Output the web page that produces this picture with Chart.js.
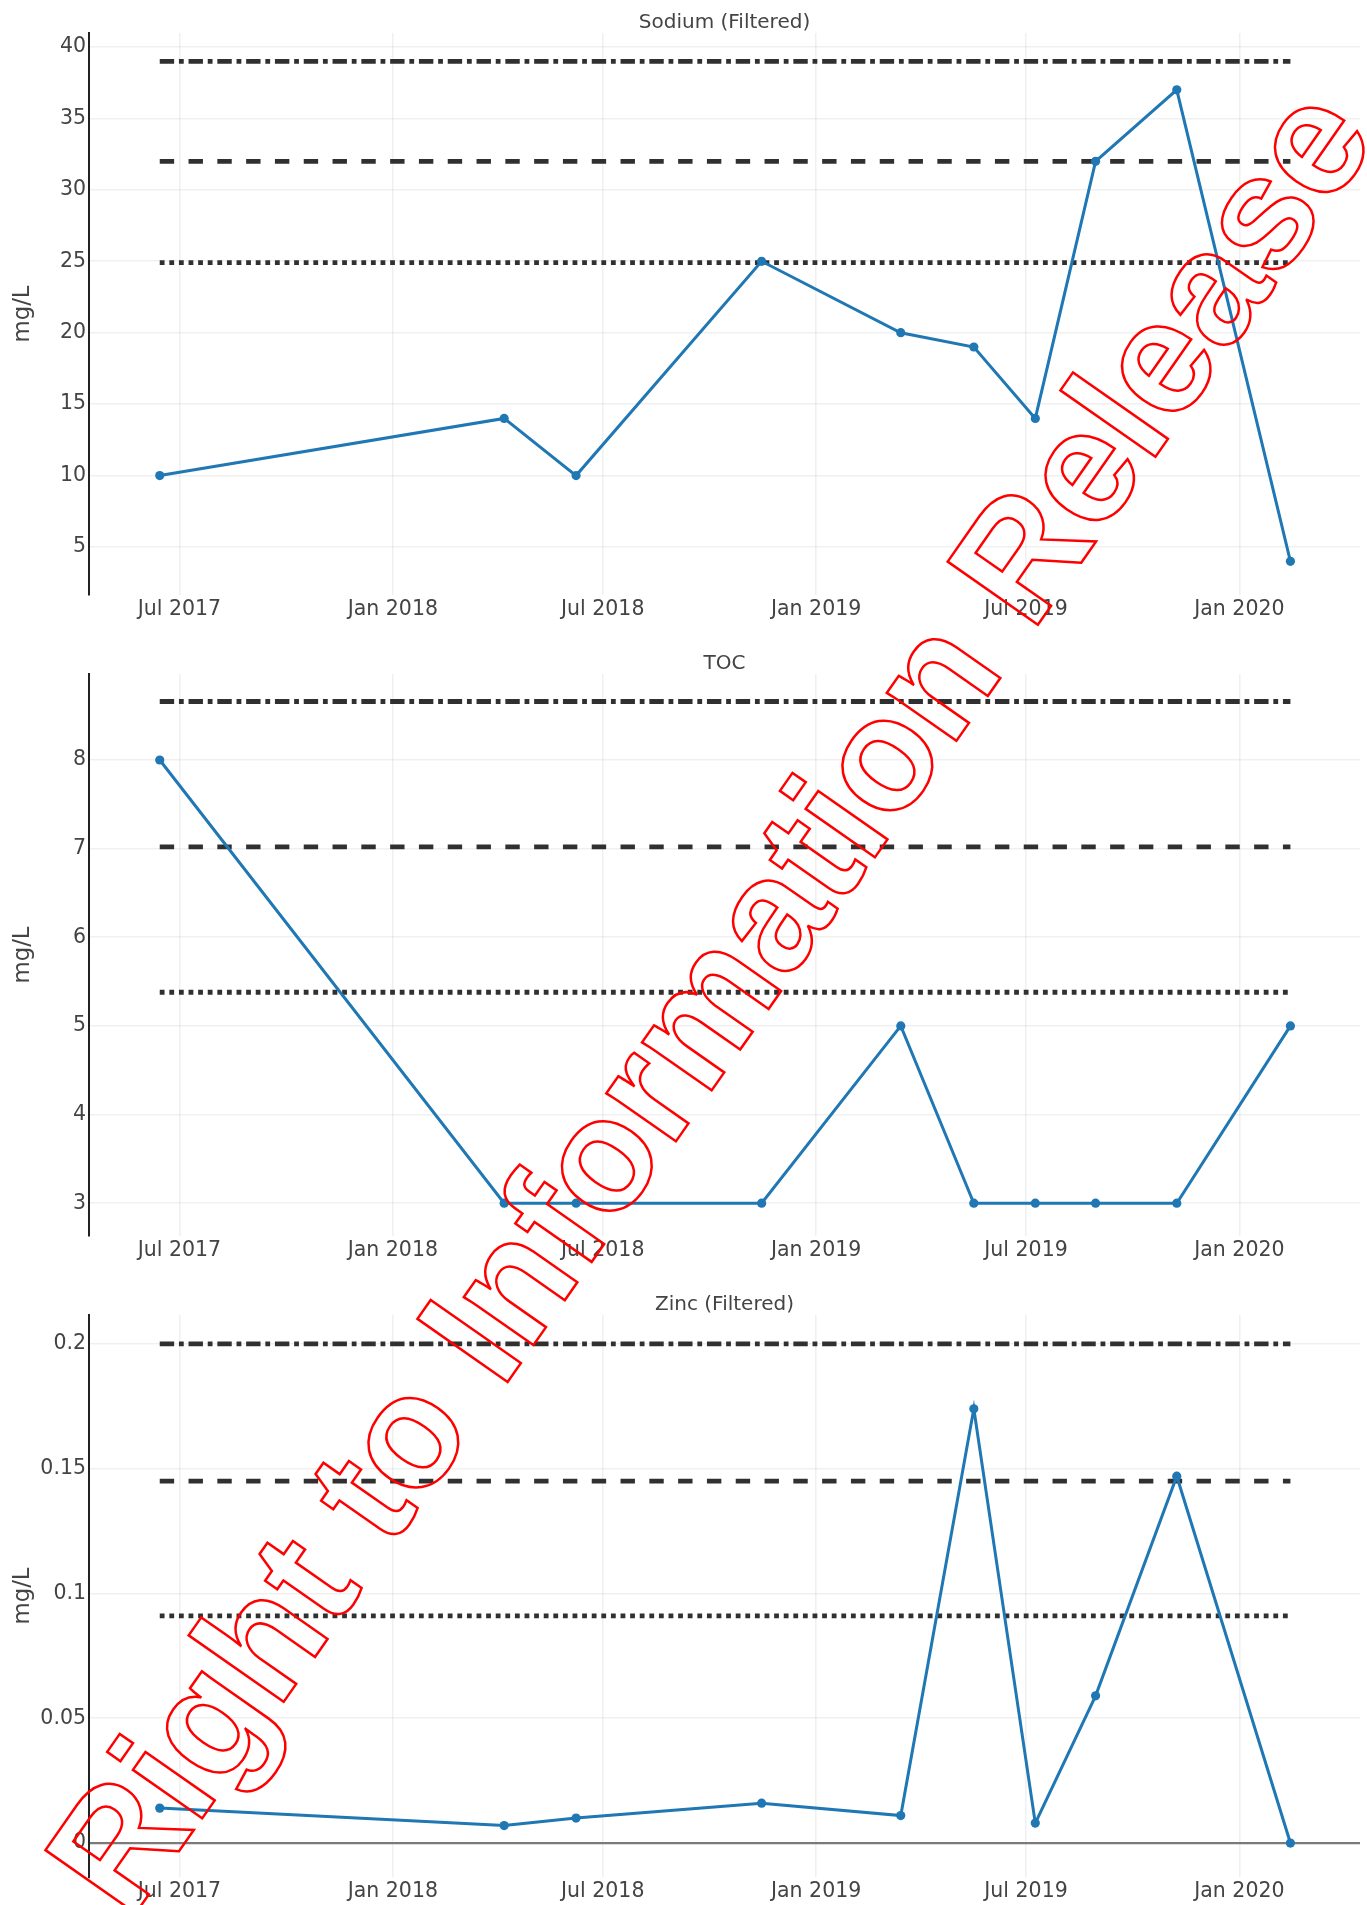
<!DOCTYPE html>
<html>
<head>
<meta charset="utf-8">
<title>Sodium, TOC and Zinc</title>
<script src="https://cdn.jsdelivr.net/npm/chart.js@4.4.1/dist/chart.umd.min.js"></script>
<style>
  html, body { margin: 0; padding: 0; background: #fff; overflow: hidden; }
  .panel { position: absolute; left: 0; width: 1367px; height: 641px; }
  #watermark { position: absolute; left: 0; top: 0; pointer-events: none; }
</style>
</head>
<body>
<div class="panel" style="top:0"><canvas id="sodium" width="1367" height="641"></canvas></div>
<div class="panel" style="top:641px"><canvas id="toc" width="1367" height="641"></canvas></div>
<div class="panel" style="top:1282px"><canvas id="zinc" width="1367" height="641"></canvas></div>
<canvas id="watermark" width="1367" height="1905"></canvas>
<script>
// sample dates shared by all three parameters
const sampleDates = [
  '2017-06-14', '2018-04-07', '2018-06-08', '2018-11-15', '2019-03-15',
  '2019-05-17', '2019-07-09', '2019-08-30', '2019-11-08', '2020-02-14',
]
const sodiumValues = [10, 14, 10, 25, 20, 19, 14, 32, 37, 4]
const tocValues = [8, 3, 3, 3, 5, 3, 3, 3, 3, 5]
const zincValues = [0.014, 0.007, 0.01, 0.016, 0.011, 0.174, 0.008, 0.059, 0.147, 0]

// trigger levels: dotted, dashed, dash-dot
const sodiumLimits = [24.9, 32, 39]
const tocLimits = [5.38, 7.02, 8.66]
const zincLimits = [0.091, 0.145, 0.2]

const xTickDates = ['2017-07-01', '2018-01-01', '2018-07-01', '2019-01-01', '2019-07-01', '2020-01-01']
const xTickLabels = ['Jul 2017', 'Jan 2018', 'Jul 2018', 'Jan 2019', 'Jul 2019', 'Jan 2020']
const sodiumTicks = [5, 10, 15, 20, 25, 30, 35, 40]
const tocTicks = [3, 4, 5, 6, 7, 8]
const zincTicks = [0, 0.05, 0.1, 0.15, 0.2]

const FONT = "'DejaVu Sans', Verdana, sans-serif"
const TEXT = '#444'
const BLUE = '#1f77b4'
const LIMIT = '#303030'
const LW = 4.8
const dashes = [[LW, LW], [3 * LW, 3 * LW], [3 * LW, LW, LW, LW]]

Chart.defaults.font.family = FONT
Chart.defaults.color = TEXT

function day(s) {
  let [y, m, d] = s.split('-').map(Number)
  return Date.UTC(y, m - 1, d) / 86400000
}

let xDays = sampleDates.map(day)
let xTicks = xTickDates.map(day)

const panelTitle = {
  id: 'panelTitle',
  afterDraw(chart, args, opts) {
    let { ctx, chartArea } = chart
    ctx.save()
    ctx.font = '20px ' + FONT
    ctx.fillStyle = TEXT
    ctx.textAlign = 'center'
    ctx.textBaseline = 'middle'
    ctx.fillText(opts.text, (chartArea.left + chartArea.right) / 2, opts.y)
    ctx.restore()
  },
}

function drawPanel(id, title, values, limits, ticks, yMin, yMax) {
  let first = xDays[0],
    last = xDays[xDays.length - 1]
  let datasets = [
    {
      data: values.map((v, i) => ({ x: xDays[i], y: v })),
      borderColor: BLUE,
      backgroundColor: BLUE,
      borderWidth: 3,
      pointRadius: 4.6,
      pointBorderWidth: 0,
      pointBackgroundColor: BLUE,
    },
  ]
  limits.forEach((v, i) => {
    datasets.push({
      data: [{ x: first, y: v }, { x: last, y: v }],
      borderColor: LIMIT,
      borderWidth: LW,
      borderDash: dashes[i],
      pointRadius: 0,
    })
  })

  let gridColor = 'rgba(0,0,0,0.06)'
  new Chart(document.getElementById(id), {
    type: 'line',
    data: { datasets: datasets },
    plugins: [panelTitle],
    options: {
      responsive: false,
      animation: false,
      layout: { padding: { top: 33, right: 7, bottom: 0, left: 0 } },
      plugins: {
        legend: { display: false },
        tooltip: { enabled: false },
        panelTitle: { text: title, y: 22.5 },
      },
      scales: {
        x: {
          type: 'linear',
          min: day('2017-04-14'),
          max: day('2020-04-14'),
          afterBuildTicks(scale) {
            scale.ticks = xTicks.map(v => ({ value: v }))
          },
          afterFit(scale) {
            scale.height = 46
          },
          ticks: {
            autoSkip: false,
            maxRotation: 0,
            padding: 2.5,
            font: { size: 20.5 },
            color: TEXT,
            callback: (v, i) => xTickLabels[i],
          },
          grid: { color: gridColor, lineWidth: 1.6, drawTicks: false },
          border: { display: false },
        },
        y: {
          type: 'linear',
          min: yMin,
          max: yMax,
          afterBuildTicks(scale) {
            scale.ticks = ticks.map(v => ({ value: v }))
          },
          afterFit(scale) {
            scale.width = 89
          },
          ticks: {
            padding: 3,
            font: { size: 20.5 },
            color: TEXT,
            callback: v => String(v),
          },
          grid: {
            drawTicks: false,
            color: c => (c.tick && c.tick.value === 0 ? '#7a7a7a' : gridColor),
            lineWidth: c => (c.tick && c.tick.value === 0 ? 2.2 : 1.6),
          },
          border: { display: true, color: '#222', width: 2 },
          title: {
            display: true,
            text: 'mg/L',
            color: TEXT,
            font: { size: 22.8 },
            padding: { top: 9, bottom: 0 },
          },
        },
      },
    },
  })
}

drawPanel('sodium', 'Sodium (Filtered)', sodiumValues, sodiumLimits, sodiumTicks, 1.64, 40.98)
drawPanel('toc', 'TOC', tocValues, tocLimits, tocTicks, 2.63, 8.97)
drawPanel('zinc', 'Zinc (Filtered)', zincValues, zincLimits, zincTicks, -0.0136, 0.2116)

// red outlined release stamp across the page
function drawWatermark() {
  let ctx = document.getElementById('watermark').getContext('2d')
  ctx.save()
  ctx.translate(754, 1030)
  ctx.rotate((-55 * Math.PI) / 180)
  ctx.font = "bold 160px 'Liberation Sans', Arial, sans-serif"
  ctx.textAlign = 'center'
  ctx.textBaseline = 'alphabetic'
  ctx.strokeStyle = '#ff0000'
  ctx.lineWidth = 2.5
  ctx.strokeText('Right to Information Release', 0, 0)
  ctx.restore()
}
drawWatermark()
</script>
</body>
</html>
